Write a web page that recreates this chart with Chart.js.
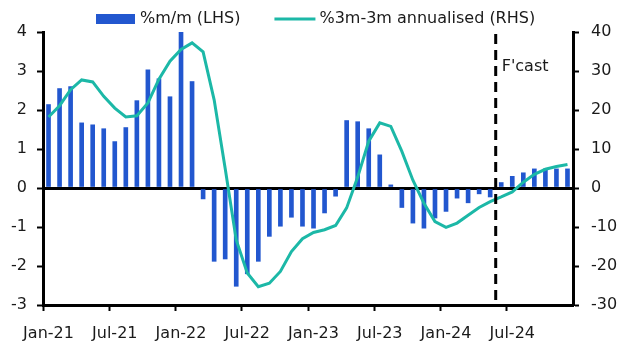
<!DOCTYPE html>
<html>
<head>
<meta charset="utf-8">
<script src="https://cdn.jsdelivr.net/npm/chart.js@4.4.1/dist/chart.umd.min.js"></script>
<style>
  html, body { margin: 0; padding: 0; background: #fff; }
  #wrap { width: 627px; height: 353px; }
</style>
</head>
<body>
<div id="wrap"><canvas id="chart"></canvas></div>
<script>
const months = [
  'Jan-21', 'Feb-21', 'Mar-21', 'Apr-21', 'May-21', 'Jun-21', 'Jul-21', 'Aug-21', 'Sep-21', 'Oct-21', 'Nov-21', 'Dec-21',
  'Jan-22', 'Feb-22', 'Mar-22', 'Apr-22', 'May-22', 'Jun-22', 'Jul-22', 'Aug-22', 'Sep-22', 'Oct-22', 'Nov-22', 'Dec-22',
  'Jan-23', 'Feb-23', 'Mar-23', 'Apr-23', 'May-23', 'Jun-23', 'Jul-23', 'Aug-23', 'Sep-23', 'Oct-23', 'Nov-23', 'Dec-23',
  'Jan-24', 'Feb-24', 'Mar-24', 'Apr-24', 'May-24', 'Jun-24', 'Jul-24', 'Aug-24', 'Sep-24', 'Oct-24', 'Nov-24', 'Dec-24'
];

// %m/m (LHS)
const momValues = [
  2.14, 2.55, 2.6, 1.67, 1.62, 1.52, 1.19, 1.55, 2.24, 3.03, 2.8, 2.34,
  4.0, 2.73, -0.28, -1.88, -1.82, -2.52, -2.2, -1.88, -1.24, -0.98, -0.75, -0.98,
  -1.03, -0.64, -0.21, 1.73, 1.7, 1.52, 0.85, 0.08, -0.5, -0.9, -1.03, -0.77,
  -0.6, -0.26, -0.38, -0.15, -0.23, 0.14, 0.3, 0.39, 0.49, 0.49, 0.49, 0.49
];

// %3m-3m annualised (RHS)
const annValues = [
  18.2, 21.1, 25.2, 27.7, 27.2, 23.5, 20.5, 18.2, 18.5, 21.8, 27.9, 32.5,
  35.5, 37.2, 34.9, 22.6, 5.0, -13.3, -21.8, -25.3, -24.4, -21.4, -16.3, -13.0,
  -11.4, -10.7, -9.6, -5.1, 2.8, 12.0, 16.7, 15.8, 9.4, 2.0, -3.9, -8.6,
  -10.1, -9.0, -7.0, -5.0, -3.5, -2.3, -1.0, 1.5, 3.5, 4.8, 5.5, 6.0
];

const leftTicks = [-3, -2, -1, 0, 1, 2, 3, 4];
const rightTicks = [-30, -20, -10, 0, 10, 20, 30, 40];
const forecastStart = 'Jun-24';

const barColor = '#2257cf';
const lineColor = '#1cb8a7';
const textColor = '#1a1a1a';
const fontFamily = "'DejaVu Sans', 'Noto Sans', sans-serif";

// legend drawn at the top, centred over the plot
const legendPlugin = {
  id: 'topLegend',
  afterDraw(chart) {
    const { ctx } = chart;
    const items = chart.data.datasets.map(ds => ds).sort((a, b) => b.order - a.order);
    ctx.save();
    ctx.font = `16px ${fontFamily}`;
    ctx.textBaseline = 'middle';
    let x = 96;
    const y = 19;
    items.forEach(ds => {
      if (ds.type === 'bar') {
        ctx.fillStyle = ds.backgroundColor;
        ctx.fillRect(x, y - 5, 39, 10);
        x += 44;
      } else {
        ctx.strokeStyle = ds.borderColor;
        ctx.lineWidth = 3;
        ctx.beginPath();
        ctx.moveTo(x, y);
        ctx.lineTo(x + 41, y);
        ctx.stroke();
        x += 45;
      }
      ctx.fillStyle = textColor;
      ctx.textAlign = 'left';
      ctx.fillText(ds.label, x, y);
      x += ctx.measureText(ds.label).width + 34;
    });
    ctx.restore();
  }
};

// dashed forecast divider and its label
const forecastPlugin = {
  id: 'forecast',
  afterDatasetsDraw(chart) {
    const { ctx, chartArea, scales } = chart;
    const i = months.indexOf(forecastStart);
    const xPos = (scales.x.getPixelForValue(i - 1) + scales.x.getPixelForValue(i)) / 2;
    ctx.save();
    ctx.strokeStyle = '#000';
    ctx.lineWidth = 3;
    ctx.setLineDash([10, 6]);
    ctx.beginPath();
    ctx.moveTo(xPos, chartArea.top + 2);
    ctx.lineTo(xPos, chartArea.bottom - 4);
    ctx.stroke();
    ctx.setLineDash([]);
    ctx.font = `16px ${fontFamily}`;
    ctx.fillStyle = textColor;
    ctx.textBaseline = 'middle';
    ctx.textAlign = 'left';
    ctx.fillText("F'cast", xPos + 6, chartArea.top + 35);
    ctx.restore();
  }
};

Chart.defaults.font.family = fontFamily;
Chart.defaults.font.size = 16;
Chart.defaults.color = textColor;

new Chart(document.getElementById('chart'), {
  data: {
    labels: months,
    datasets: [
      {
        type: 'bar',
        label: '%m/m (LHS)',
        data: momValues,
        yAxisID: 'y',
        backgroundColor: barColor,
        barThickness: 4,
        order: 2
      },
      {
        type: 'line',
        label: '%3m-3m annualised (RHS)',
        data: annValues,
        yAxisID: 'y1',
        borderColor: lineColor,
        borderWidth: 3,
        pointRadius: 0,
        tension: 0,
        order: 1
      }
    ]
  },
  options: {
    responsive: true,
    maintainAspectRatio: false,
    animation: false,
    layout: {
      padding: { top: 32, left: 0, right: 0, bottom: 0 }
    },
    plugins: {
      legend: { display: false },
      tooltip: { enabled: false }
    },
    scales: {
      x: {
        type: 'category',
        offset: true,
        afterFit: s => { s.height = 48; },
        grid: {
          offset: true,
          drawOnChartArea: false,
          drawTicks: true,
          tickLength: 6,
          tickWidth: 2,
          color: 'transparent',
          tickColor: c => (c.index % 6 === 0 ? '#000' : 'transparent')
        },
        border: { color: '#000', width: 3 },
        ticks: {
          autoSkip: false,
          maxRotation: 0,
          padding: 13,
          callback: (v, i) => (i % 6 === 0 ? months[i] : '')
        }
      },
      y: {
        position: 'left',
        min: leftTicks[0],
        max: leftTicks[leftTicks.length - 1],
        afterFit: s => { s.width = 43; },
        afterBuildTicks: s => { s.ticks = leftTicks.map(v => ({ value: v })); },
        grid: {
          drawOnChartArea: true,
          tickLength: 6,
          tickWidth: 2,
          tickColor: '#000',
          color: c => (c.tick && c.tick.value === 0 ? '#000' : 'transparent'),
          lineWidth: 3
        },
        border: { color: '#000', width: 3 },
        ticks: { padding: 10 }
      },
      y1: {
        position: 'right',
        min: rightTicks[0],
        max: rightTicks[rightTicks.length - 1],
        afterFit: s => { s.width = 54; },
        afterBuildTicks: s => { s.ticks = rightTicks.map(v => ({ value: v })); },
        grid: {
          drawOnChartArea: false,
          tickLength: 6,
          tickWidth: 2,
          tickColor: '#000'
        },
        border: { color: '#000', width: 3 },
        ticks: { padding: 12 }
      }
    }
  },
  plugins: [legendPlugin, forecastPlugin]
});
</script>
</body>
</html>
